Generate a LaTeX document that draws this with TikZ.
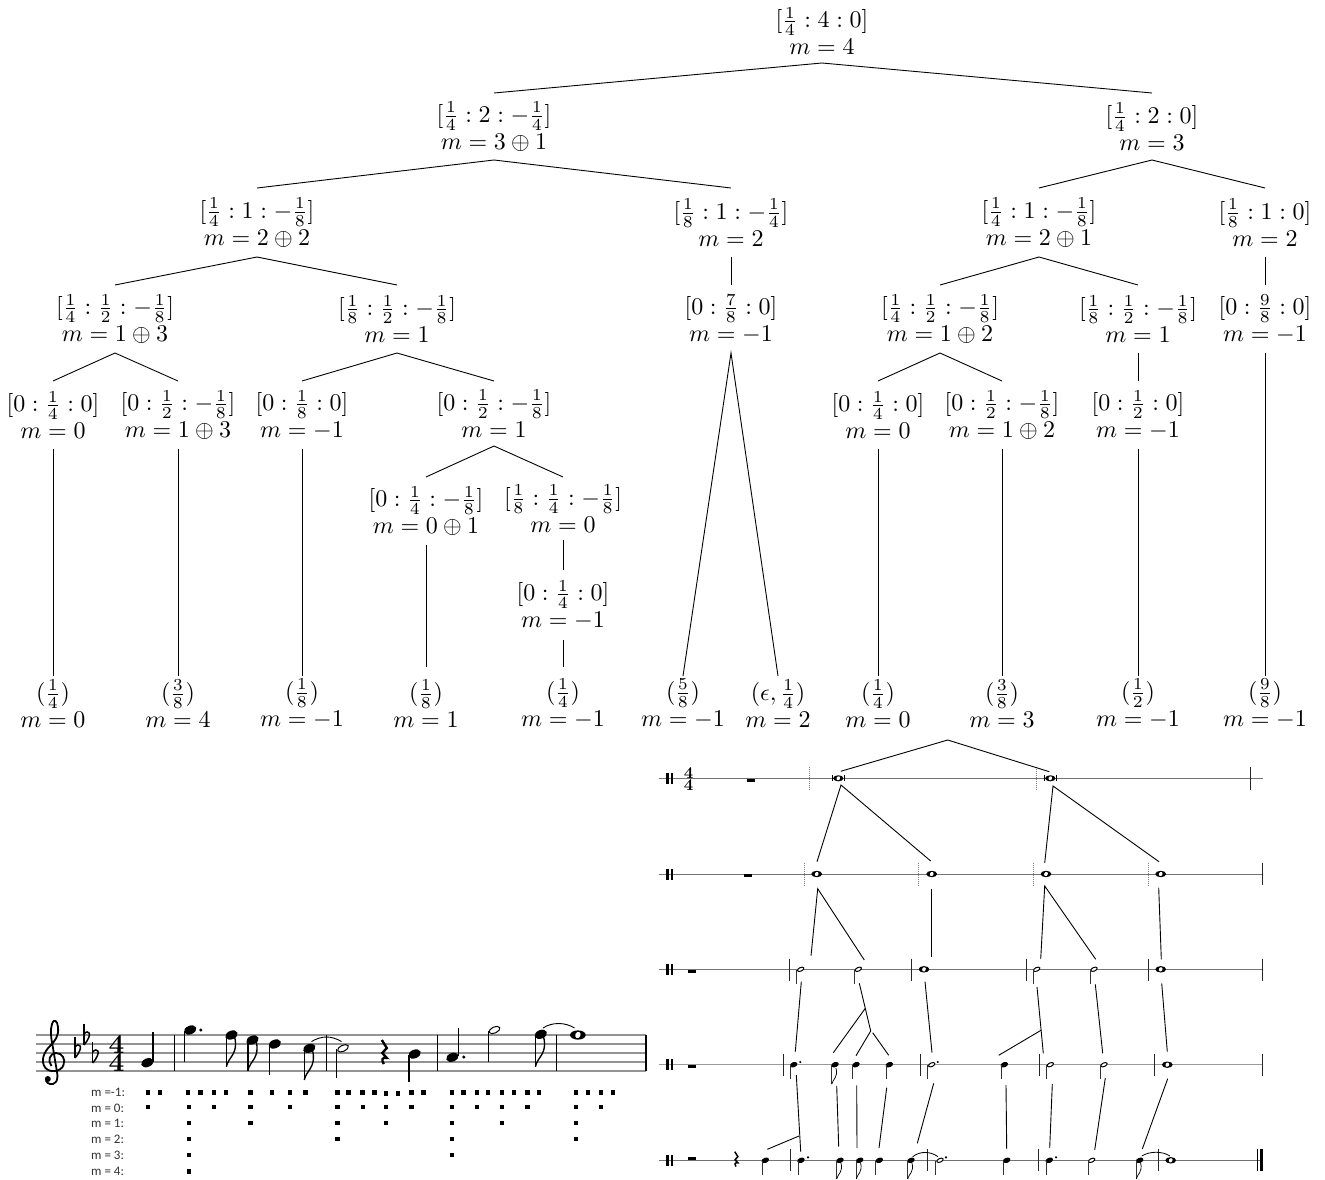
\documentclass[tikz,border=0pt]{standalone}
\usepackage[no-math]{fontspec}
\usepackage{amsmath}
\newfontfamily\lblfont{Carlito}
\newcommand{\tl}[2]{\vbox{\lineskiplimit=-100pt\baselineskip=11.25pt\halign{\hfil$##$\hfil\cr#1\cr#2\cr}}}
\newcommand{\cpt}[3]{\coordinate (#1) at (#2,#3);}
% heads: x y scale
\newcommand{\hdq}[3]{\fill[rotate around={22:(#1,#2)}] (#1,#2) ellipse [x radius={3.9pt*#3},y radius={2.6pt*#3}];}
\newcommand{\hdh}[3]{\filldraw[fill=white,line width=1pt,rotate around={25:(#1,#2)}] (#1,#2) ellipse [x radius={3.6pt*#3},y radius={1.9pt*#3}];}
\newcommand{\hdw}[3]{\fill (#1,#2) ellipse [x radius={5.4pt*#3},y radius={3.2pt*#3}];\fill[white,rotate around={-25:(#1,#2)}] (#1,#2) ellipse [x radius={1.8pt*#3},y radius={2.2pt*#3}];}
\newcommand{\stm}[3]{\draw[stemline] (#1,#2) -- (#1,#3);}
% flag: stem x, stem bottom y, scale
\newcommand{\flg}[3]{\draw[line width={.85pt*#3},xshift=#1pt,yshift=-#2pt] (0,0) .. controls ({1*#3},{-6*#3}) and ({8*#3},{-8*#3}) .. ({5*#3},{-19*#3});}
\newcommand{\dotn}[2]{\fill (#1,#2) circle (1.2pt);}
\newcommand{\bline}[3]{\draw[barline] (#1,#2) -- (#1,#3);}
\newcommand{\qrst}[3]{\draw[line width={2.4pt*#3},xshift=#1pt,yshift=-#2pt] ({-2*#3},0) -- ({3*#3},{8*#3}) -- ({-1.5*#3},{13*#3}) -- ({3*#3},{18*#3}) .. controls ({-2*#3},{17*#3}) and ({-2.5*#3},{20*#3}) .. ({0*#3},{24*#3});}
\newcommand{\dbar}[1]{\fill (666.3,#1-5.5) rectangle (668.7,#1+5.5);\fill (671,#1-5.5) rectangle (673.4,#1+5.5);}
\newcommand{\flt}[2]{\draw[line width=1.1pt] (#1,#2-16.5) -- (#1,#2+5);\draw[line width=1.5pt] (#1,#2-6) .. controls (#1+4,#2-11) and (#1+10,#2-7) .. (#1,#2+5);}
\newcommand{\brv}[2]{\hdw{#1}{#2}{.95}\fill (#1-6.6,#2-3) rectangle (#1-5.4,#2+3);\fill (#1+5.4,#2-3) rectangle (#1+6.6,#2+3);}
\tikzset{
  x=1pt,y=-1pt,
  tn/.style={transform shape,scale=2.4,inner sep=0pt,outer sep=0pt,minimum height={#1pt/2.4}},
  link/.style={line width=.9pt,black},
  stemline/.style={line width=1pt,black!80},
  barline/.style={line width=1pt,black!85},
  staff/.style={line width=1pt,black!55},
  dotbar/.style={line width=.8pt,black!50,dash pattern=on 1pt off 1pt},
  lab/.style={font=\lblfont\fontsize{13}{15}\selectfont,inner sep=0pt,anchor=west,text=black!80},
  tsig/.style={font=\bfseries,inner sep=0pt,transform shape},
  bstem/.style={line width=1.2pt},
}
\begin{document}
\begin{tikzpicture}
\useasboundingbox (0,0) rectangle (1325,1180);
\fill[white] (0,0) rectangle (1325,1180);
% ---------- tree nodes
\node[tn=64] (r) at (822,31) {\tl{[\frac14:4:0]}{m=4}};
\node[tn=67] (a) at (494,126.5) {\tl{[\frac14:2:-\frac14]}{m=3\oplus1}};
\node[tn=67] (b) at (1152,126.5) {\tl{[\frac14:2:0]}{m=3}};
\node[tn=69] (aa) at (257,222.5) {\tl{[\frac14:1:-\frac18]}{m=2\oplus2}};
\node[tn=69] (ab) at (731,222.5) {\tl{[\frac18:1:-\frac14]}{m=2}};
\node[tn=69] (ba) at (1039,222.5) {\tl{[\frac14:1:-\frac18]}{m=2\oplus1}};
\node[tn=69] (bb) at (1265,222.5) {\tl{[\frac18:1:0]}{m=2}};
\node[tn=68] (aaa) at (115,319) {\tl{[\frac14:\frac12:-\frac18]}{m=1\oplus3}};
\node[tn=68] (aab) at (397,319) {\tl{[\frac18:\frac12:-\frac18]}{m=1}};
\node[tn=68] (aba) at (731,319) {\tl{[0:\frac78:0]}{m=-1}};
\node[tn=68] (baa) at (940,319) {\tl{[\frac14:\frac12:-\frac18]}{m=1\oplus2}};
\node[tn=68] (bab) at (1138,319) {\tl{[\frac18:\frac12:-\frac18]}{m=1}};
\node[tn=68] (bba) at (1265,319) {\tl{[0:\frac98:0]}{m=-1}};
\node[tn=68] (n1) at (53,415) {\tl{[0:\frac14:0]}{m=0}};
\node[tn=68] (n2) at (178,415) {\tl{[0:\frac12:-\frac18]}{m=1\oplus3}};
\node[tn=68] (n3) at (302,415) {\tl{[0:\frac18:0]}{m=-1}};
\node[tn=65] (n4) at (494,413.5) {\tl{[0:\frac12:-\frac18]}{m=1}};
\node[tn=68] (n5) at (878,415) {\tl{[0:\frac14:0]}{m=0}};
\node[tn=68] (n6) at (1002,415) {\tl{[0:\frac12:-\frac18]}{m=1\oplus2}};
\node[tn=68] (n7) at (1138,415) {\tl{[0:\frac12:0]}{m=-1}};
\node[tn=68] (p1) at (426,511) {\tl{[0:\frac14:-\frac18]}{m=0\oplus1}};
\node[tn=63] (p2) at (563,508.5) {\tl{[\frac18:\frac14:-\frac18]}{m=0}};
\node[tn=70] (q1) at (563,605) {\tl{[0:\frac14:0]}{m=-1}};
\node[tn=55] (l1) at (53,703.5) {\tl{(\frac14)}{m=0}};
\node[tn=55] (l2) at (178,703.5) {\tl{(\frac38)}{m=4}};
\node[tn=55] (l3) at (302,703.5) {\tl{(\frac18)}{m=-1}};
\node[tn=73] (l4) at (426,703.5) {\tl{(\frac18)}{m=1}};
\node[tn=73] (l5) at (563,703.5) {\tl{(\frac14)}{m=-1}};
\node[tn=55] (l6) at (683,703.5) {\tl{(\frac58)}{m=-1}};
\node[tn=55] (l7) at (778,703.5) {\tl{(\epsilon,\frac14)}{m=2}};
\node[tn=55] (l8) at (878,703.5) {\tl{(\frac14)}{m=0}};
\node[tn=55] (l9) at (1002,703.5) {\tl{(\frac38)}{m=3}};
\node[tn=55] (l10) at (1138,703.5) {\tl{(\frac12)}{m=-1}};
\node[tn=55] (l11) at (1265,703.5) {\tl{(\frac98)}{m=-1}};
\draw[link] (a.north) -- (r.south) -- (b.north);
\draw[link] (aa.north) -- (a.south) -- (ab.north);
\draw[link] (ba.north) -- (b.south) -- (bb.north);
\draw[link] (aaa.north) -- (aa.south) -- (aab.north);
\draw[link] (ab.south) -- (aba.north);
\draw[link] (baa.north) -- (ba.south) -- (bab.north);
\draw[link] (bb.south) -- (bba.north);
\draw[link] (n1.north) -- (aaa.south) -- (n2.north);
\draw[link] (n3.north) -- (aab.south) -- (n4.north);
\draw[link] (l6.north) -- (aba.south) -- (l7.north);
\draw[link] (n5.north) -- (baa.south) -- (n6.north);
\draw[link] (bab.south) -- (n7.north);
\draw[link] (bba.south) -- (l11.north);
\draw[link] (n1.south) -- (l1.north);
\draw[link] (n2.south) -- (l2.north);
\draw[link] (n3.south) -- (l3.north);
\draw[link] (p1.north) -- (n4.south) -- (p2.north);
\draw[link] (p1.south) -- (l4.north);
\draw[link] (p2.south) -- (q1.north);
\draw[link] (q1.south) -- (l5.north);
\draw[link] (n5.south) -- (l8.north);
\draw[link] (n6.south) -- (l9.north);
\draw[link] (n7.south) -- (l10.north);
% ---------- score, left
\foreach \y in {1035,1043.8,1052.8,1061.7,1070.7}{\draw[line width=1.6pt,black!42] (36,\y) -- (646,\y);}
\draw[line width=1.8pt] (51.5,1066) .. controls (47,1061) and (50,1053) .. (56,1053) .. controls (62,1053) and (66,1059) .. (63.5,1065) .. controls (61,1072) and (50,1073) .. (45.5,1068) .. controls (40,1061) and (44,1052) .. (50,1046) .. controls (55,1041) and (59,1036) .. (58,1027) .. controls (57.5,1021) and (54,1018) .. (52,1024) .. controls (50,1030) and (51,1038) .. (52.5,1045) -- (57,1072) .. controls (59,1082) and (54,1085) .. (50,1084) .. controls (46,1083) and (45,1079) .. (47,1078);
\fill (47.8,1079) circle (3pt);
\flt{75}{1053}\flt{84}{1040}\flt{92.7}{1058}
\node[tsig,scale=2.75] (ts1) at (116.6,1044) {4};
\node[tsig,scale=2.75] (ts2) at (116.6,1062) {4};
\foreach \x in {174.2,326.2,437.7,556.4,646}{\draw[line width=1.3pt] (\x,1035) -- (\x,1070.7);}
\hdq{147.3}{1062.7}{1.65}\draw[bstem] (152.9,1062) -- (152.9,1031.7);
\hdq{190.2}{1030}{1.65}\draw[bstem] (184.8,1031) -- (184.8,1061.7);\fill (200.8,1030) circle (1.7pt);
\hdq{231.5}{1035}{1.65}\draw[bstem] (226.4,1036) -- (226.4,1066.7);\flg{226.4}{1066.7}{1.6}
\hdq{252.5}{1040}{1.65}\draw[bstem] (247.9,1041) -- (247.9,1070.7);\flg{247.9}{1070.7}{1.6}
\hdq{274.8}{1044}{1.65}\draw[bstem] (269.8,1045) -- (269.8,1075);
\hdq{309.3}{1048.3}{1.65}\draw[bstem] (304.3,1049) -- (304.3,1080);\flg{304.3}{1080}{1.6}
\draw[line width=.9pt] (311.5,1041.5) .. controls (322,1035.5) and (331,1035.5) .. (341.5,1041.5);
\hdh{343}{1048.3}{1.6}\draw[bstem] (336.7,1049) -- (336.7,1078.3);
\qrst{383.8}{1040}{1}
\hdq{414.6}{1054}{1.65}\draw[bstem] (409,1055) -- (409,1081.7);
\hdq{452.4}{1057.3}{1.65}\draw[bstem] (458.1,1056) -- (458.1,1028.3);\fill (463.8,1057) circle (1.7pt);
\hdh{494.5}{1030}{1.6}\draw[bstem] (488.6,1031) -- (488.6,1061.7);
\hdq{540.8}{1034.3}{1.65}\draw[bstem] (535.4,1035) -- (535.4,1066.7);\flg{535.4}{1066.7}{1.6}
\draw[line width=.9pt] (543,1028) .. controls (552,1022) and (565,1022) .. (574.5,1028);
\hdw{577.9}{1035}{1.45}
% ---------- metric labels and dots
\node[lab] (m1) at (91,1092.3) {m =-1:};
\node[lab] (m2) at (91,1108) {m = 0:};
\node[lab] (m3) at (91,1123.3) {m = 1:};
\node[lab] (m4) at (91,1139) {m = 2:};
\node[lab] (m5) at (91,1155.7) {m = 3:};
\node[lab] (m6) at (91,1171.7) {m = 4:};
\foreach \x in {352,380,447,476,508,537,595,646,689,726,802,828,861,890,978,1006,1074,1101,1133,1160,1193,1221,1253,1281,1368,1397,1428,1456}{\fill ({\x/2.376-2.2},1090.2) rectangle ++(4.4,4.4);}
\foreach \x in {917,945}{\fill ({\x/2.376-2.2},1091.4) rectangle ++(4.4,4.4);}
\foreach \x in {352,449,509,595,689,802,862,917,978,1074,1133,1193,1253,1368,1428}{\fill ({\x/2.376-2.2},1104.9) rectangle ++(4.4,4.4);}
\foreach \x in {449,595,802,917,1074,1193,1368}{\fill ({\x/2.376-2.2},1120.5) rectangle ++(4.4,4.4);}
\foreach \x in {449,802,1074,1368}{\fill ({\x/2.376-2.2},1136.8) rectangle ++(4.4,4.4);}
\foreach \x in {449,1074}{\fill ({\x/2.376-2.2},1152.8) rectangle ++(4.4,4.4);}
\foreach \x in {449}{\fill ({\x/2.376-2.2},1169.1) rectangle ++(4.4,4.4);}
% ---------- reduction, right: staff rows
\draw[staff] (659,778.3) -- (1263,778.3);
\draw[staff] (659,874) -- (1263,874);
\draw[staff] (659,969.3) -- (1263,969.3);
\draw[line width=1.4pt,black!40] (659,1064.7) -- (1263,1064.7);
\draw[staff] (659,1160.3) -- (1260,1160.3);
\dbar{778.3}\dbar{874}\dbar{969.3}\dbar{1064.7}\dbar{1160.3}
\node[tsig,scale=1.65] (ts3) at (688.5,772.6) {4};
\node[tsig,scale=1.65] (ts4) at (688.5,784.6) {4};
% rests
\fill (746.7,778.7) rectangle (755,782.3);
\fill (744.3,874) rectangle (752.3,877.3);
\fill (688,969.7) rectangle (696,973);
\fill (688,1065) rectangle (696,1068.3);
\fill (688,1156.7) rectangle (696,1160.3);
\qrst{736}{1151.7}{.62}
% row A
\draw[dotbar] (809.7,767) -- (809.7,790);
\draw[dotbar] (1036.7,767) -- (1036.7,790);
\brv{838.3}{778.3}\brv{1050.3}{778.3}
\bline{1250.7}{767}{790}
% row B
\foreach \x in {804,918.7,1033.3,1148}{\draw[dotbar] (\x,862.7) -- (\x,885.3);}
\hdw{816.7}{874}{1}\hdw{931.7}{874}{1}\hdw{1046}{874}{1}\hdw{1160.7}{874}{1}
\bline{1262.3}{862.7}{885.3}
% row C
\foreach \x in {789.3,911.7,1026,1148,1262.3}{\bline{\x}{958.7}{980.7}}
\hdh{800.7}{969.3}{.95}\stm{796.7}{970}{984}
\hdh{858.3}{969.3}{.95}\stm{854}{970}{984}
\hdw{924}{969.3}{1}
\hdh{1036.7}{969.3}{.95}\stm{1033.3}{970}{984}
\hdh{1094}{969.3}{.95}\stm{1090.7}{970}{984}
\hdw{1160.7}{969.3}{1}
% row D
\foreach \x in {783,920,1039,1154.7,1262.3}{\bline{\x}{1053.7}{1076}}
\hdq{793.7}{1064.7}{1}\stm{790.3}{1065}{1079.3}\dotn{800.3}{1062}
\hdq{835}{1064.7}{1}\stm{831.7}{1065}{1084.3}\flg{831.7}{1084.3}{.85}
\hdq{856}{1064.7}{1}\stm{852.3}{1065}{1079.3}
\hdq{889.3}{1064.7}{1}\stm{886}{1065}{1079.3}
\hdh{931.7}{1064.7}{.95}\stm{927.3}{1065}{1079.3}\dotn{937.7}{1062}
\hdq{1004.3}{1064.7}{1}\stm{1001}{1065}{1079.3}
\hdh{1050.3}{1064.7}{.95}\stm{1046.7}{1065}{1079.3}
\hdh{1104}{1064.7}{.95}\stm{1100.3}{1065}{1079.3}
\hdw{1167.3}{1064.7}{1}
% row E
\foreach \x in {790.3,927.3,1038.3,1158}{\bline{\x}{1149.3}{1171.3}}
\hdq{765.3}{1160.3}{1}\stm{762}{1161}{1175}
\hdq{801}{1160.3}{1}\stm{798}{1161}{1175}\dotn{808}{1157.3}
\hdq{840}{1160.3}{1}\stm{836.7}{1161}{1179}\flg{836.7}{1179}{.85}
\hdq{859.7}{1160.3}{1}\stm{856.3}{1161}{1179}\flg{856.3}{1179}{.85}
\hdq{879.3}{1160.3}{1}\stm{875.7}{1161}{1175}
\hdq{911}{1160.3}{1}\stm{907.7}{1161}{1179}\flg{907.7}{1179}{.85}
\draw[line width=.8pt] (912.7,1156.7) .. controls (920,1151) and (930,1151) .. (938,1156.7);
\hdh{940}{1160.3}{.95}\stm{935}{1161}{1175}\dotn{946}{1157.3}
\hdq{1006.7}{1160.3}{1}\stm{1003.3}{1161}{1175}
\hdq{1049.3}{1160.3}{1}\stm{1046}{1161}{1175}\dotn{1056}{1157.3}
\hdh{1091.7}{1160.3}{.95}\stm{1088.3}{1161}{1175}
\hdq{1139.7}{1160.3}{1}\stm{1136.3}{1161}{1179}\flg{1136.3}{1179}{.85}
\draw[line width=.8pt] (1141.7,1156) .. controls (1150,1151) and (1162,1151) .. (1170,1156);
\hdw{1170.7}{1160.3}{1}
\draw[line width=.9pt] (1257.3,1149.3) -- (1257.3,1171.3);
\fill (1259.5,1149.3) rectangle (1262.5,1171.3);
% ---------- reduction connectors
\cpt{top}{947.7}{740}\cpt{A1t}{840.7}{771.3}\cpt{A2t}{1049.3}{771.7}
\draw[link] (A1t) -- (top) -- (A2t);
\cpt{A1b}{841}{785}\cpt{B1t}{817}{861.7}\cpt{B2t}{930.7}{861}
\draw[link] (B1t) -- (A1b) -- (B2t);
\cpt{A2b}{1053}{786}\cpt{B3t}{1044.7}{863}\cpt{B4t}{1159}{861.7}
\draw[link] (B3t) -- (A2b) -- (B4t);
\cpt{B1b}{817.7}{888.7}\cpt{C1t}{811}{955.7}\cpt{C2t}{864.3}{960}
\draw[link] (C1t) -- (B1b) -- (C2t);
\cpt{B2b}{931}{889}\cpt{C3t}{931}{957.3}
\draw[link] (B2b) -- (C3t);
\cpt{B3b}{1044.7}{886}\cpt{C4t}{1040.7}{959}\cpt{C5t}{1095.7}{959.3}
\draw[link] (C4t) -- (B3b) -- (C5t);
\cpt{B4b}{1158.7}{887.7}\cpt{C6t}{1161.3}{959.3}
\draw[link] (B4b) -- (C6t);
\cpt{C1b}{801.3}{981.7}\cpt{D1t}{795.3}{1051.7}
\draw[link] (C1b) -- (D1t);
\cpt{C2b}{859.3}{983.3}\cpt{Cj1}{865.3}{1008.3}\cpt{Cj2}{870.7}{1031}\cpt{D2t}{833.3}{1052.7}\cpt{D3t}{856}{1055.7}\cpt{D4t}{888.7}{1055.3}\cpt{Cj3}{872.7}{1032.7}
\draw[link] (C2b) -- (Cj2) -- (D3t);
\draw[link] (Cj1) -- (D2t);
\draw[link] (Cj3) -- (D4t);
\cpt{C3b}{925}{981.7}\cpt{D5t}{932}{1052.7}
\draw[link] (C3b) -- (D5t);
\cpt{C4b}{1037}{987}\cpt{D7t}{1043.3}{1053.3}\cpt{Cj4}{1041}{1030.3}\cpt{D6t}{998.7}{1055.3}
\draw[link] (C4b) -- (D7t);
\draw[link] (Cj4) -- (D6t);
\cpt{C5b}{1095.3}{984.3}\cpt{D8t}{1102.7}{1053.3}
\draw[link] (C5b) -- (D8t);
\cpt{C6b}{1161.7}{983.3}\cpt{D9t}{1167.3}{1051.7}
\draw[link] (C6b) -- (D9t);
\cpt{D1b}{796.3}{1075}\cpt{E2t}{800.7}{1151.7}\cpt{Dj1}{799}{1136}\cpt{E1t}{767.3}{1149.3}
\draw[link] (D1b) -- (E2t);
\draw[link] (Dj1) -- (E1t);
\cpt{D2b}{836.7}{1086}\cpt{E3t}{838.7}{1146.7}
\draw[link] (D2b) -- (E3t);
\cpt{D3b}{856.7}{1085.3}\cpt{E4t}{857}{1148}
\draw[link] (D3b) -- (E4t);
\cpt{D4b}{886.7}{1087.7}\cpt{E5t}{879}{1148}
\draw[link] (D4b) -- (E5t);
\cpt{D5b}{933.7}{1083.3}\cpt{E6t}{917.3}{1143.3}
\draw[link] (D5b) -- (E6t);
\cpt{D6b}{1006}{1085}\cpt{E7t}{1006.7}{1149}
\draw[link] (D6b) -- (E7t);
\cpt{D7b}{1052.3}{1084}\cpt{E8t}{1049.7}{1148}
\draw[link] (D7b) -- (E8t);
\cpt{D8b}{1105.3}{1078}\cpt{E9t}{1094.7}{1150}
\draw[link] (D8b) -- (E9t);
\cpt{D9b}{1167.7}{1078.7}\cpt{E10t}{1142.3}{1149}
\draw[link] (D9b) -- (E10t);
\end{tikzpicture}
\end{document}
